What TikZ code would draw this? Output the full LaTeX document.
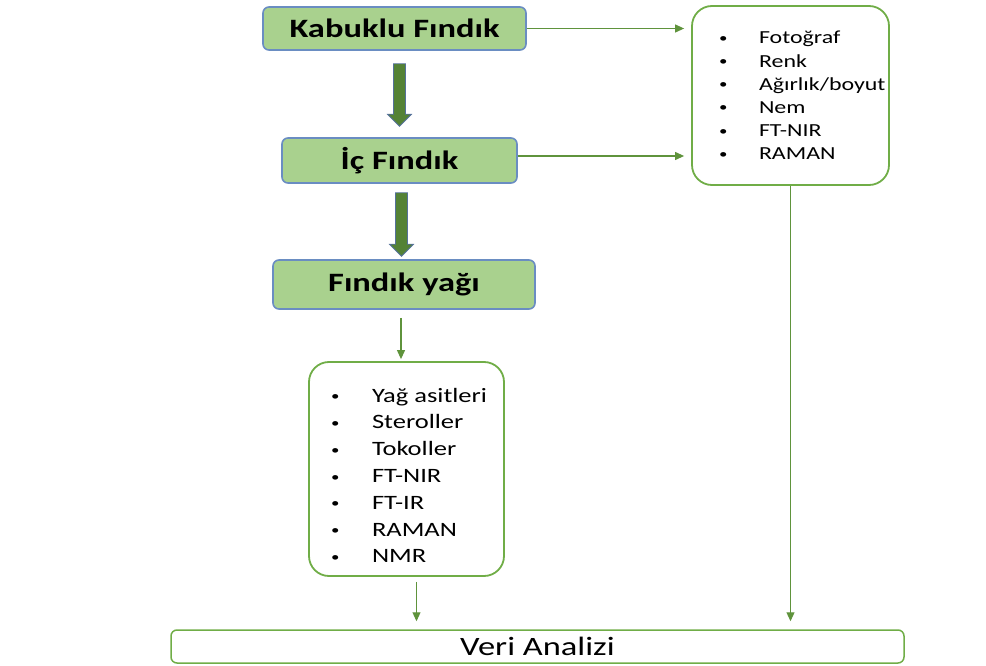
\documentclass[tikz,border=0pt]{standalone}
\usepackage{fontspec}
\setmainfont{Carlito}[FakeStretch=1.3]
\usetikzlibrary{positioning,arrows.meta,calc}
\definecolor{stagefill}{HTML}{A9D18E}
\definecolor{stageline}{HTML}{6A8DC2}
\definecolor{arrowfill}{HTML}{548235}
\definecolor{flowline}{HTML}{70AD47}
\tikzset{stage/.style={draw=stageline, line width=1.6pt, fill=stagefill, rounded corners=6pt,
                       inner sep=0pt, font=\fontsize{26.5}{30}\selectfont\bfseries},
        measures/.style={draw=flowline, line width=1.8pt, rounded corners=20pt, inner sep=0pt},
        result/.style={draw=flowline, line width=1.5pt, rounded corners=6pt, inner sep=0pt,
                       font=\fontsize{26.5}{30}\selectfont},
        flow/.style={draw=flowline!85!black, line width=1.1pt, -{Triangle[length=9pt,width=8pt]}},
        bigarrow/.style={fill=arrowfill, draw=stageline!80!black, line width=0.8pt},
        }
\newcommand{\itemline}[2][40pt]{\makebox[#1][l]{\raisebox{1.5pt}{\fontsize{13}{13}\selectfont\textbullet}}#2}

\begin{document}
\begin{tikzpicture}[x=1pt,y=1pt]
    \useasboundingbox (0,0) rectangle (986,-666);

    \node[stage, minimum width=263, minimum height=43] (kabuklu) at (394.5,-28.5) {Kabuklu Fındık};
    \node[stage, minimum width=235, minimum height=45] (icfindik) at (399.5,-160.5) {İç Fındık};
    \node[stage, minimum width=262, minimum height=49] (yag) at (404,-284.5) {Fındık yağı};

    \node[measures, minimum width=197, minimum height=179] (fiziksel) at (790.5,-95.5)
        {\hspace*{27pt}\parbox{170pt}{\fontsize{18.4}{23.2}\selectfont
            \itemline{Fotoğraf}\\ \itemline{Renk}\\ \itemline{Ağırlık/boyut}\\
            \itemline{Nem}\\ \itemline{FT-NIR}\\ \itemline{RAMAN}}};
    \node[measures, minimum width=195, minimum height=214] (kimyasal) at (406.5,-469)
        {\hspace*{22pt}\parbox{173pt}{\fontsize{20.4}{26.8}\selectfont\vspace*{13pt}
            \itemline[41pt]{Yağ asitleri}\\ \itemline[41pt]{Steroller}\\ \itemline[41pt]{Tokoller}\\
            \itemline[41pt]{FT-NIR}\\ \itemline[41pt]{FT-IR}\\ \itemline[41pt]{RAMAN}\\
            \itemline[41pt]{NMR}}};

    \node[result, minimum width=733, minimum height=33] (veri) at (537.5,-646.5) {Veri Analizi};

    % block arrows between the stages
    \draw[bigarrow] let \p1=(kabuklu.south), \p2=(icfindik.north) in
        (\x2-6pt,\y1-13pt) -- (\x2+6pt,\y1-13pt) -- (\x2+6pt,\y2+23pt) -- (\x2+12pt,\y2+23pt)
        -- (\x2,\y2+11pt) -- (\x2-12pt,\y2+23pt) -- (\x2-6pt,\y2+23pt) -- cycle;
    \draw[bigarrow] let \p1=(icfindik.south), \p2=(yag.north) in
        (\x1-4pt,\y1-9pt) -- (\x1+8pt,\y1-9pt) -- (\x1+8pt,\y2+15pt) -- (\x1+14pt,\y2+15pt)
        -- (\x1+2pt,\y2+3pt) -- (\x1-10pt,\y2+15pt) -- (\x1-4pt,\y2+15pt) -- cycle;

    \draw[flow, shorten >=7pt] (kabuklu.east) -- (kabuklu.east -| fiziksel.west);
    \draw[flow, shorten >=7pt] ([yshift=4.5pt]icfindik.east) -- ([yshift=4.5pt]icfindik.east -| fiziksel.west);
    \draw[flow, shorten <=8pt, shorten >=2pt] ([xshift=-3pt]yag.south) -- ([xshift=-3pt]yag.south |- kimyasal.north);
    \draw[flow, shorten <=5pt, shorten >=8pt] ([xshift=10pt]kimyasal.south) -- ([xshift=10pt]kimyasal.south |- veri.north);
    \draw[flow, shorten >=8pt] (fiziksel.south) -- (fiziksel.south |- veri.north);

\end{tikzpicture}
\end{document}
